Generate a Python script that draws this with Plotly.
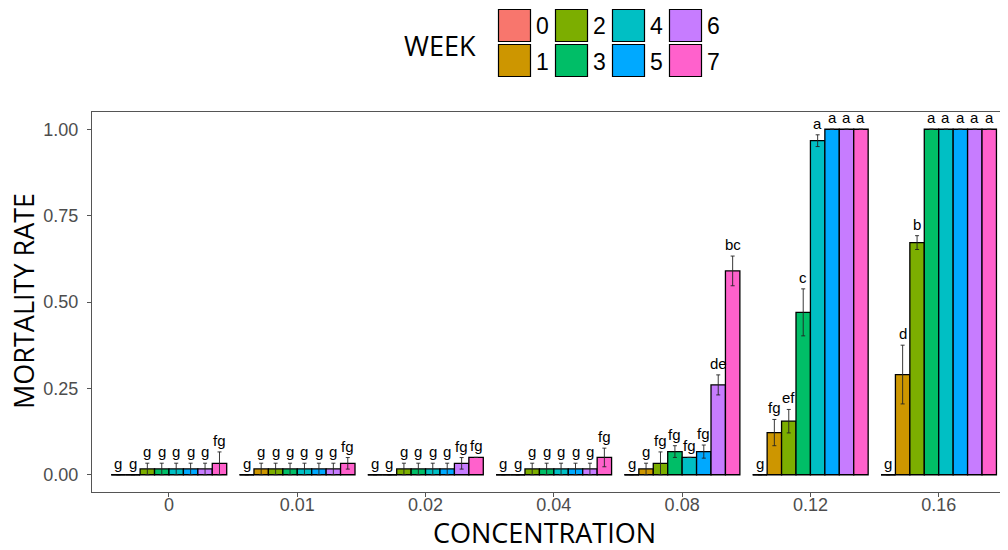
import plotly.graph_objects as go

concentrations = ["0", "0.01", "0.02", "0.04", "0.08", "0.12", "0.16"]
weeks = ["0", "1", "2", "3", "4", "5", "6", "7"]
colors = ["#F8766D", "#CD9600", "#7CAE00", "#00BE67", "#00BFC4", "#00A9FF", "#C77CFF", "#FF61CC"]

mean_w0 = [0, 0, 0, 0, 0, 0, 0]
mean_w1 = [0, 0.0167, 0, 0, 0.0167, 0.122, 0.29]
mean_w2 = [0.0167, 0.0167, 0.0167, 0.0167, 0.033, 0.155, 0.672]
mean_w3 = [0.0167, 0.0167, 0.0167, 0.0167, 0.067, 0.47, 1.0]
mean_w4 = [0.0167, 0.0167, 0.0167, 0.0167, 0.05, 0.967, 1.0]
mean_w5 = [0.0167, 0.0167, 0.0167, 0.0167, 0.067, 1.0, 1.0]
mean_w6 = [0.0167, 0.0167, 0.033, 0.0167, 0.26, 1.0, 1.0]
mean_w7 = [0.033, 0.033, 0.05, 0.05, 0.59, 1.0, 1.0]

se_w0 = [0, 0, 0, 0, 0, 0, 0]
se_w1 = [0, 0.0167, 0, 0, 0.0167, 0.038, 0.085]
se_w2 = [0.0167, 0.0167, 0.0167, 0.0167, 0.033, 0.034, 0.02]
se_w3 = [0.0167, 0.0167, 0.0167, 0.0167, 0.017, 0.068, 0]
se_w4 = [0.0167, 0.0167, 0.0167, 0.0167, 0, 0.017, 0]
se_w5 = [0.0167, 0.0167, 0.0167, 0.0167, 0.019, 0, 0]
se_w6 = [0.0167, 0.0167, 0.0167, 0.0167, 0.029, 0, 0]
se_w7 = [0.033, 0.0167, 0, 0.027, 0.043, 0, 0]

lab_w0 = ["g", "g", "g", "g", "g", "g", "g"]
lab_w1 = ["g", "g", "g", "g", "g", "fg", "d"]
lab_w2 = ["g", "g", "g", "g", "fg", "ef", "b"]
lab_w3 = ["g", "g", "g", "g", "fg", "c", "a"]
lab_w4 = ["g", "g", "g", "g", "fg", "a", "a"]
lab_w5 = ["g", "g", "g", "g", "fg", "a", "a"]
lab_w6 = ["g", "g", "fg", "g", "de", "a", "a"]
lab_w7 = ["fg", "fg", "fg", "fg", "bc", "a", "a"]

means = [mean_w0, mean_w1, mean_w2, mean_w3, mean_w4, mean_w5, mean_w6, mean_w7]
ses = [se_w0, se_w1, se_w2, se_w3, se_w4, se_w5, se_w6, se_w7]
labels = [lab_w0, lab_w1, lab_w2, lab_w3, lab_w4, lab_w5, lab_w6, lab_w7]

n_w = len(weeks)
group_w = 0.9
bw = group_w / n_w

fig = go.Figure()
annotations = []
zx, zy = [], []
for w in range(n_w):
    off = -group_w / 2 + bw * (w + 0.5)
    xs = [i + off for i in range(len(concentrations))]
    fig.add_trace(go.Bar(
        x=xs, y=means[w], width=bw, name=weeks[w],
        marker=dict(color=colors[w], line=dict(color="black", width=1.3)),
        error_y=dict(type="data", array=ses[w], color="#222222", thickness=0.9, width=2),
        showlegend=False,
    ))
    for i, x in enumerate(xs):
        m = means[w][i]
        annotations.append(dict(
            x=x, y=m + ses[w][i], xref="x", yref="y", text=labels[w][i],
            showarrow=False, yanchor="bottom", xanchor="center", yshift=1,
            font=dict(family="Liberation Sans, Arial", size=15, color="black"),
        ))
        if m == 0:
            zx += [x - bw / 2, x + bw / 2, None]
            zy += [0, 0, None]

fig.add_trace(go.Scatter(x=zx, y=zy, mode="lines", line=dict(color="black", width=1.5),
                         showlegend=False, hoverinfo="skip"))

# layout geometry (page has an 8px body margin)
FW, FH = 1000, 542
OFF = 8
L, T, W, H = 84, 104, 916, 380

def px_x(p):
    return (p - OFF - L) / W

def px_y(p):
    return (T + H - (p - OFF)) / H

shapes = []
for w in range(n_w):
    c, r = w // 2, w % 2
    x0 = 498.5 + 57 * c
    y0 = 9.5 + 35 * r
    shapes.append(dict(type="rect", xref="paper", yref="paper",
                       x0=px_x(x0), x1=px_x(x0 + 32), y0=px_y(y0 + 32), y1=px_y(y0),
                       fillcolor=colors[w], line=dict(color="black", width=1.2)))
    annotations.append(dict(x=px_x(x0 + 35), y=px_y(y0 + 17), xref="paper", yref="paper",
                            text=weeks[w], showarrow=False, xanchor="left", yanchor="middle",
                            font=dict(family="Liberation Sans, Arial", size=23, color="black")))

annotations.append(dict(x=px_x(402), y=px_y(45), xref="paper", yref="paper", text="WEEK",
                        showarrow=False, xanchor="left", yanchor="middle",
                        font=dict(family="Open Sans", size=27, color="black")))
annotations.append(dict(x=px_x(544), y=px_y(532), xref="paper", yref="paper", text="CONCENTRATION",
                        showarrow=False, xanchor="center", yanchor="middle",
                        font=dict(family="Open Sans", size=27, color="black")))
annotations.append(dict(x=px_x(23), y=px_y(301), xref="paper", yref="paper", text="MORTALITY RATE",
                        showarrow=False, xanchor="center", yanchor="middle", textangle=-90,
                        font=dict(family="Open Sans", size=27, color="black")))

fig.update_layout(
    width=FW, height=FH,
    margin=dict(l=L, r=FW - L - W, t=T, b=FH - T - H),
    paper_bgcolor="white", plot_bgcolor="white",
    barmode="overlay",
    annotations=annotations, shapes=shapes,
    xaxis=dict(range=[-0.6, 6.54], tickvals=list(range(len(concentrations))), ticktext=concentrations,
               showgrid=False, zeroline=False, showline=True, mirror=True, linecolor="#555555", linewidth=1,
               ticks="outside", ticklen=4, tickcolor="#555555", ticklabelstandoff=-8,
               tickfont=dict(family="Liberation Sans, Arial", size=18, color="#4D4D4D")),
    yaxis=dict(range=[-0.05, 1.05], tickvals=[0, 0.25, 0.5, 0.75, 1.0],
               ticktext=["0.00", "0.25", "0.50", "0.75", "1.00"],
               showgrid=False, zeroline=False, showline=True, linecolor="#555555", linewidth=1,
               ticks="outside", ticklen=4, tickcolor="#555555", ticklabelstandoff=5,
               tickfont=dict(family="Liberation Sans, Arial", size=18, color="#4D4D4D")),
)

fig.write_html("out.html")
